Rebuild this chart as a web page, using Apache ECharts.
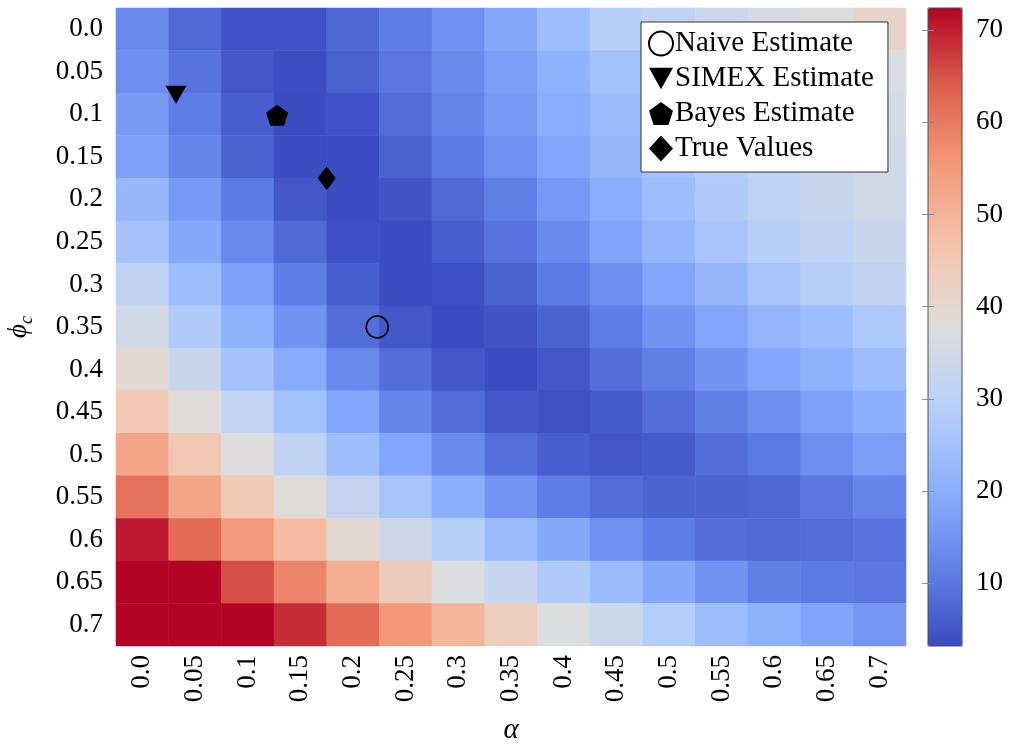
<!DOCTYPE html>
<html>
<head>
<meta charset="utf-8">
<script src="https://cdn.jsdelivr.net/npm/echarts@6/dist/echarts.min.js"></script>
<style>
  html, body { margin: 0; padding: 0; background: #ffffff; }
  #chart { width: 1010px; height: 747px; }
</style>
</head>
<body>
<div id="chart"></div>
<script>
// Grid axes: alpha across, phi_c down
const alphaLabels = ['0.0','0.05','0.1','0.15','0.2','0.25','0.3','0.35','0.4','0.45','0.5','0.55','0.6','0.65','0.7'];
const phiLabels   = ['0.0','0.05','0.1','0.15','0.2','0.25','0.3','0.35','0.4','0.45','0.5','0.55','0.6','0.65','0.7'];

// Surface values, one row per phi_c (left to right in alpha)
const row00 = [13.0, 8.0, 4.0, 4.0, 7.5, 11.0, 14.5, 19.0, 24.0, 29.0, 31.0, 34.0, 36.0, 37.0, 41.0];
const row05 = [14.0, 9.5, 5.0, 3.5, 6.5, 10.0, 13.5, 17.0, 21.0, 25.0, 30.0, 32.0, 34.5, 36.0, 37.0];
const row10 = [16.5, 11.0, 6.0, 3.4, 4.2, 8.5, 12.5, 16.0, 20.0, 23.5, 27.0, 30.0, 32.0, 34.0, 36.0];
const row15 = [17.5, 12.5, 7.0, 3.4, 3.3, 6.5, 10.5, 14.5, 18.5, 22.5, 25.5, 28.5, 31.0, 33.0, 35.0];
const row20 = [22.5, 16.0, 10.5, 5.0, 3.3, 4.7, 8.0, 11.5, 16.0, 20.0, 24.0, 27.5, 30.5, 33.0, 34.5];
const row25 = [25.5, 19.0, 13.0, 8.0, 3.8, 3.3, 6.0, 9.5, 13.5, 18.0, 22.0, 26.0, 29.0, 31.0, 33.0];
const row30 = [31.0, 24.0, 17.5, 11.0, 6.0, 3.3, 3.7, 6.5, 10.5, 14.0, 18.5, 22.5, 26.0, 29.0, 31.0];
const row35 = [35.0, 27.5, 21.0, 15.0, 8.5, 5.0, 3.2, 4.7, 7.0, 11.0, 15.0, 18.5, 21.5, 24.0, 27.0];
const row40 = [39.5, 33.0, 25.5, 19.5, 13.0, 8.5, 5.0, 3.4, 5.0, 8.5, 11.5, 15.0, 18.5, 21.0, 24.0];
const row45 = [45.0, 38.5, 31.5, 25.0, 18.5, 12.5, 8.5, 5.0, 4.3, 5.5, 8.5, 11.5, 14.0, 17.5, 20.5];
const row50 = [53.0, 45.0, 38.0, 31.0, 24.0, 18.5, 13.5, 9.0, 6.0, 5.0, 5.7, 8.5, 10.5, 14.0, 17.0];
const row55 = [61.0, 53.0, 44.5, 38.5, 32.0, 26.0, 20.5, 15.2, 11.0, 8.5, 7.0, 7.0, 7.5, 10.0, 12.5];
const row60 = [70.5, 62.0, 55.0, 48.0, 40.0, 34.0, 29.0, 23.2, 19.0, 14.5, 11.0, 8.5, 8.0, 8.5, 9.5];
const row65 = [72.4, 72.4, 65.5, 58.5, 51.0, 44.0, 37.5, 32.7, 27.5, 23.5, 19.0, 15.0, 11.5, 10.5, 10.0];
const row70 = [72.4, 72.4, 72.4, 68.5, 62.0, 55.5, 49.5, 43.2, 37.5, 33.5, 28.5, 24.0, 21.0, 18.0, 15.5];
const surfaceRows = [row00, row05, row10, row15, row20, row25, row30, row35, row40, row45, row50, row55, row60, row65, row70];

// Estimates as (alpha, phi_c)
const naivePoint = [0.223, 0.350];
const simexPoint = [0.032, 0.077];
const bayesPoint = [0.128, 0.101];
const truePoint  = [0.175, 0.175];

// Colour bar range and tick values
const colorMin = 3.2;
const colorMax = 72.4;
const colorTicks = [10, 20, 30, 40, 50, 60, 70];

// coolwarm colour map
const coolwarm = ['#3b4cc0', '#6282ea', '#8db0fe', '#b8d0f9', '#dddddd', '#f5c4ac', '#f49a7b', '#de604d', '#b40426'];

const heatData = [];
surfaceRows.forEach((row, r) => row.forEach((v, c) => heatData.push([c, r, v])));

const serif = '"Liberation Serif", "DejaVu Serif", serif';
const pentagon = 'path://M0,-1L0.951,-0.309L0.588,0.809L-0.588,0.809L-0.951,-0.309Z';
const triDown = 'path://M0,0L10,0L5,9Z';

const barTicks = (pos) => ({
  type: 'value', gridIndex: 1, position: pos, min: colorMin, max: colorMax, z: 10,
  axisLine: { show: false }, splitLine: { show: false },
  axisTick: { show: true, inside: true, length: 6, customValues: colorTicks, lineStyle: { color: '#8c8c8c', width: 1 } },
  axisLabel: pos === 'right'
    ? { show: true, margin: 14, fontSize: 27, fontFamily: serif, color: '#000', customValues: colorTicks }
    : { show: false }
});

const chart = echarts.init(document.getElementById('chart'), null, { renderer: 'canvas' });

chart.setOption({
  animation: false,
  backgroundColor: '#ffffff',
  textStyle: { fontFamily: serif, color: '#000' },
  grid: [
    { left: 116, top: 8, width: 790, height: 638, outerBoundsMode: 'none', containLabel: false },
    { left: 928, top: 8, width: 34, height: 638, show: true, z: 8, outerBoundsMode: 'none', containLabel: false,
      backgroundColor: 'transparent', borderColor: '#4d4d4d', borderWidth: 1 }
  ],
  xAxis: [
    {
      type: 'category', gridIndex: 0, data: alphaLabels,
      axisLine: { show: false }, axisTick: { show: false }, splitLine: { show: false },
      axisLabel: { rotate: 90, margin: 9, fontSize: 27, fontFamily: serif, color: '#000' },
      name: 'α', nameLocation: 'middle', nameGap: 70,
      nameTextStyle: { fontSize: 29, fontStyle: 'italic', fontFamily: serif, color: '#000' }
    },
    { type: 'value', gridIndex: 0, min: -0.025, max: 0.725, show: false },
    { type: 'value', gridIndex: 1, min: 0, max: 1, show: false }
  ],
  yAxis: [
    {
      type: 'category', gridIndex: 0, data: phiLabels, inverse: true,
      axisLine: { show: false }, axisTick: { show: false }, splitLine: { show: false },
      axisLabel: { margin: 13, fontSize: 27, fontFamily: serif, color: '#000' },
      name: '{p|ϕ}{s|c}', nameLocation: 'middle', nameRotate: 90, nameGap: 80,
      nameTextStyle: {
        rich: {
          p: { fontSize: 27, fontStyle: 'italic', fontFamily: serif, color: '#000', verticalAlign: 'top', lineHeight: 31 },
          s: { fontSize: 18, fontStyle: 'italic', fontFamily: serif, color: '#000', verticalAlign: 'bottom', lineHeight: 31 }
        }
      }
    },
    { type: 'value', gridIndex: 0, min: -0.025, max: 0.725, inverse: true, show: false },
    barTicks('right'),
    barTicks('left')
  ],
  visualMap: {
    type: 'continuous', min: colorMin, max: colorMax, seriesIndex: 0,
    calculable: false, hoverLink: false, realtime: false, z: 1,
    left: 928, top: 8, itemWidth: 34, itemHeight: 638, padding: 0,
    text: null, showLabel: false,
    inRange: { color: coolwarm }
  },
  legend: {
    orient: 'vertical', left: 641, top: 22,
    backgroundColor: '#ffffff', borderColor: '#333333', borderWidth: 1, borderRadius: 0,
    padding: [7, 14, 9, 7], itemGap: 6, itemWidth: 24, itemHeight: 26,
    selectedMode: false,
    itemStyle: { opacity: 1 },
    textStyle: { fontSize: 29, fontFamily: serif, color: '#000', padding: [0, 0, 0, -3] },
    data: ['Naive Estimate', 'SIMEX Estimate', 'Bayes Estimate', 'True Values']
  },
  series: [
    {
      type: 'heatmap', xAxisIndex: 0, yAxisIndex: 0, data: heatData,
      itemStyle: { borderWidth: 0 }, emphasis: { disabled: true }, silent: true
    },
    {
      name: 'Naive Estimate', type: 'scatter', xAxisIndex: 1, yAxisIndex: 1,
      data: [naivePoint], symbol: 'circle', symbolSize: 22, silent: true,
      itemStyle: { color: 'rgba(0,0,0,0)', borderColor: '#000', borderWidth: 1.6, opacity: 1 }
    },
    {
      name: 'SIMEX Estimate', type: 'scatter', xAxisIndex: 1, yAxisIndex: 1,
      data: [simexPoint], symbol: triDown, symbolSize: [21, 18], silent: true,
      itemStyle: { color: '#000', opacity: 1 }
    },
    {
      name: 'Bayes Estimate', type: 'scatter', xAxisIndex: 1, yAxisIndex: 1,
      data: [bayesPoint], symbol: pentagon, symbolSize: [22, 21], silent: true,
      itemStyle: { color: '#000', opacity: 1 }
    },
    {
      name: 'True Values', type: 'scatter', xAxisIndex: 1, yAxisIndex: 1,
      data: [truePoint], symbol: 'diamond', symbolSize: [18, 24], silent: true,
      itemStyle: { color: '#000', opacity: 1 }
    }
  ]
});
</script>
</body>
</html>
